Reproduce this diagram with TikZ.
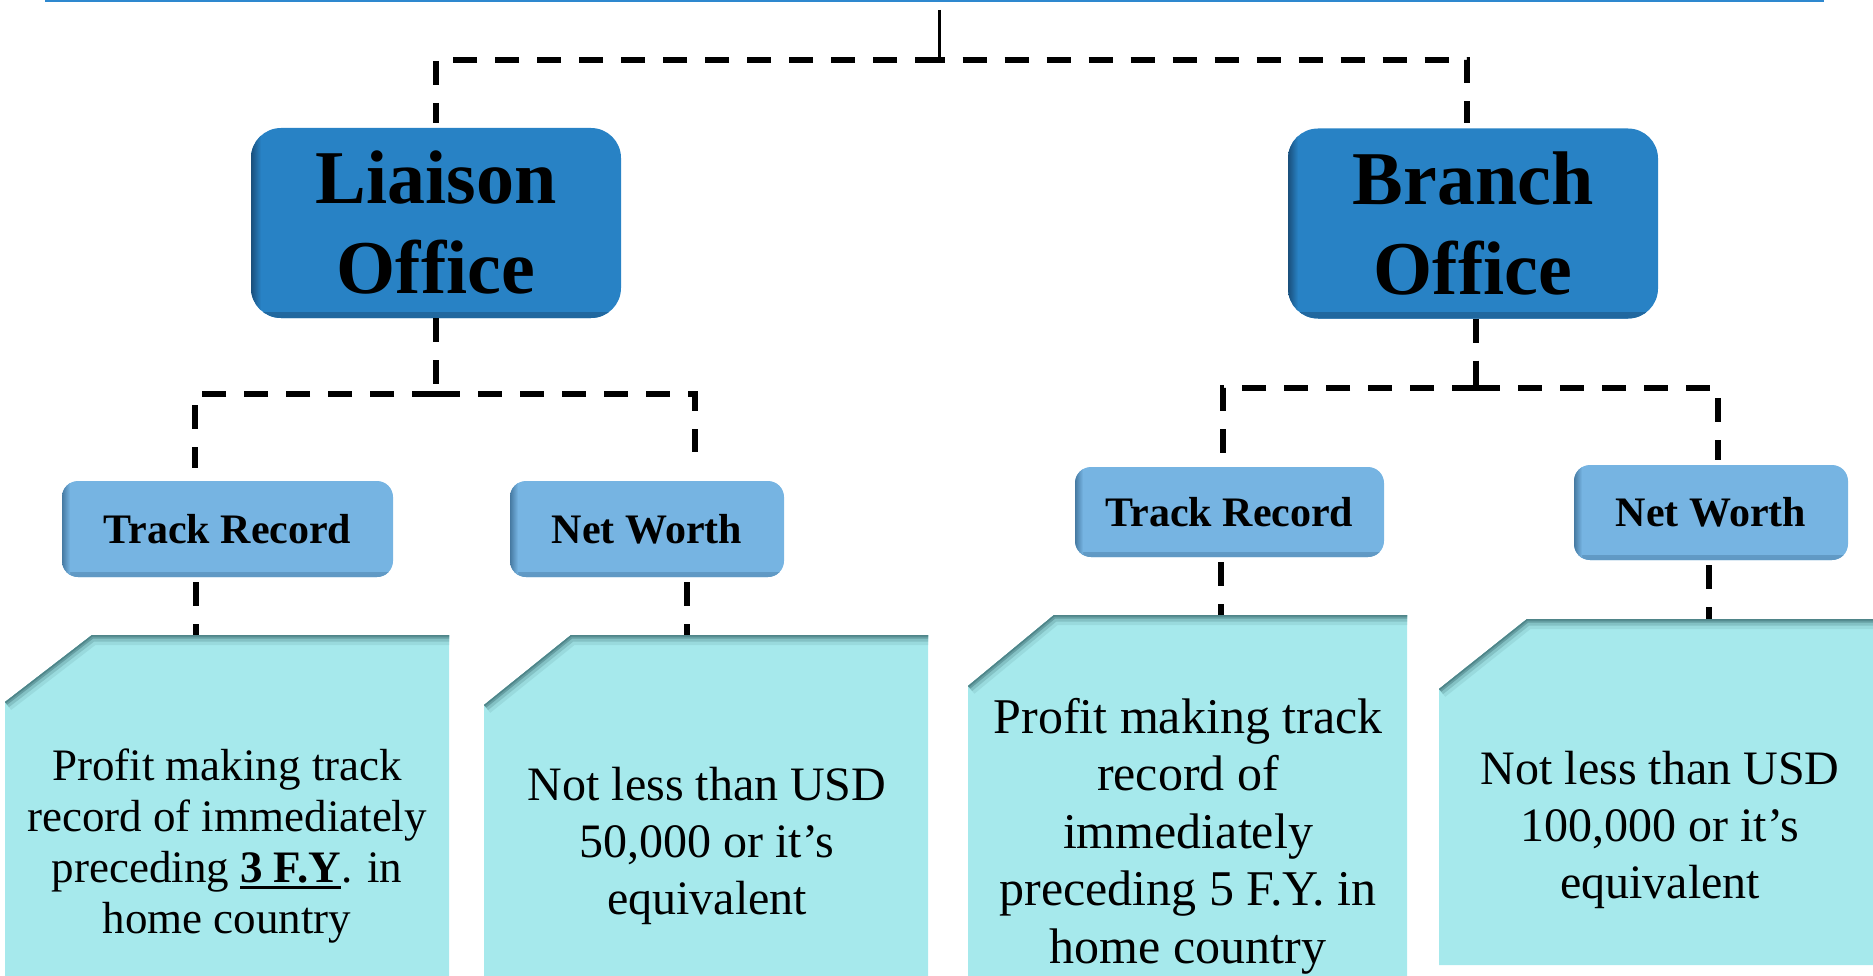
\documentclass[tikz,border=0pt]{standalone}
\usepackage{fontspec}
\setmainfont{Liberation Serif}
\usetikzlibrary{calc}
\definecolor{topline}{HTML}{2E88CF}
\definecolor{mainblue}{HTML}{2882C5}
\definecolor{mainshadow}{HTML}{17466E}
\definecolor{subblue}{HTML}{76B4E2}
\definecolor{subshadow}{HTML}{3E6F96}
\definecolor{cardfill}{HTML}{A6E9EC}
\definecolor{cardsh}{HTML}{4F8589}
\newcommand\ulbold[1]{\setbox0\hbox{\bfseries #1}\rlap{\rule[-7pt]{\wd0}{3.5pt}}\box0}
\newcommand\cardshape[6]{%
  \fill[cardfill] ({#1+#5},#3) -- (#2,#3) -- (#2,#4) -- (#1,#4) -- (#1,{#3+#6}) -- cycle;
  \begin{scope}
    \clip ({#1+#5},#3) -- (#2,#3) -- (#2,#4) -- (#1,#4) -- (#1,{#3+#6}) -- cycle;
    \draw[line width=20pt, cardsh!15!cardfill] (#1,{#3+#6}) -- ({#1+#5},#3) -- ({#2+20},#3);
    \draw[line width=13pt, cardsh!40!cardfill] (#1,{#3+#6}) -- ({#1+#5},#3) -- ({#2+20},#3);
    \draw[line width=7pt, cardsh!75!cardfill] (#1,{#3+#6}) -- ({#1+#5},#3) -- ({#2+20},#3);
    \draw[line width=3pt, cardsh] (#1,{#3+#6}) -- ({#1+#5},#3) -- ({#2+20},#3);
  \end{scope}}
\begin{document}
\begin{tikzpicture}[x=1pt,y=-1pt,
  dl/.style={line width=6pt, dash pattern=on 24pt off 18pt},
  sl/.style={line width=3pt},
  mainbox/.style={fill=mainblue, rounded corners=30pt, minimum width=370pt,
    minimum height=190pt, inner sep=0pt, align=center,
    font=\fontsize{76}{90}\selectfont\bfseries,
    path picture={
      \shade[sharp corners, top color=mainblue, bottom color=mainshadow!45!mainblue]
        (path picture bounding box.south west) rectangle ([yshift=6pt]path picture bounding box.south east);
      \shade[sharp corners, left color=mainshadow!85!mainblue, right color=mainblue]
        (path picture bounding box.north west) rectangle ([xshift=10pt]path picture bounding box.south west);}},
  subbox/.style={fill=subblue, rounded corners=16pt, inner sep=0pt, align=center,
    font=\fontsize{42}{48}\selectfont\bfseries,
    path picture={
      \shade[sharp corners, top color=subblue, bottom color=subshadow!40!subblue]
        (path picture bounding box.south west) rectangle ([yshift=5pt]path picture bounding box.south east);
      \shade[sharp corners, left color=subshadow!85!subblue, right color=subblue]
        (path picture bounding box.north west) rectangle ([xshift=8pt]path picture bounding box.south west);}},
  cardtext/.style={align=center, inner sep=0pt}
]
\useasboundingbox (0,0) rectangle (1873,976);

% top blue rule
\coordinate (ruleL) at (45,1);
\coordinate (ruleR) at (1824,1);
\draw[topline, line width=2.5pt] (ruleL) -- (ruleR);

% main boxes
\node[mainbox] (lo) at (436,223) {Liaison\\Office};
\node[mainbox] (bo) at (1473,223.5) {Branch\\Office};

% sub boxes
\node[subbox, minimum width=331pt, minimum height=96pt] (trl) at (227.5,529) {Track Record};
\node[subbox, minimum width=274pt, minimum height=96pt] (nwl) at (647,529) {Net Worth};
\node[subbox, minimum width=309pt, minimum height=90pt] (trr) at (1229.5,512) {Track Record};
\node[subbox, minimum width=274pt, minimum height=95pt] (nwr) at (1711,512.5) {Net Worth};

% cards
\cardshape{5}{449}{635}{980}{87}{67}
\cardshape{484}{928}{635}{980}{87}{70}
\cardshape{968}{1407}{615}{980}{86}{71}
\cardshape{1439}{1880}{619}{965}{88}{70}

\node[cardtext, font=\fontsize{45}{51}\selectfont] (t1) at (227,846)
  {Profit making track\\record of immediately\\preceding \ulbold{3 F.Y}. in\\home country};
\node[cardtext, font=\fontsize{48}{57}\selectfont] (t2) at (707,846)
  {Not less than USD\\50,000 or it’s\\equivalent};
\node[cardtext, font=\fontsize{50}{57.5}\selectfont] (t3) at (1188,836)
  {Profit making track\\record of\\immediately\\preceding 5 F.Y. in\\home country};
\node[cardtext, font=\fontsize{48}{57}\selectfont] (t4) at (1660,830)
  {Not less than USD\\100,000 or it’s\\equivalent};

% connectors top
\coordinate (root) at (939,10);
\coordinate (hub) at (939,60);
\draw[dl, shorten >=5pt] (hub) -| (lo.north);
\draw[dl, dash phase=18.5pt, shorten >=5pt] (hub) -| ([xshift=-6pt]bo.north);
\draw[sl] (root) -- (hub);

% Liaison branch
\coordinate (hl) at (436,394);
\coordinate (tl) at (195,468);
\coordinate (nl) at (695,452);
\draw[dl] (lo.south) -- (hl);
\draw[dl] (hl) -| (tl);
\draw[dl] (hl) -| (nl);

% Branch branch
\coordinate (hr) at (1476,388);
\coordinate (tr) at (1223,453);
\coordinate (nr) at (1718,460);
\draw[dl] (bo.south -| hr) -- (hr);
\draw[dl] (hr) -| (tr);
\draw[dl] (hr) -| (nr);

% sub boxes to cards
\coordinate (c1) at (196,635);
\coordinate (c2) at (687,635);
\coordinate (c3) at (1221,615);
\coordinate (c4) at (1709,619);
\draw[dl] ([yshift=-5pt]c1 |- trl.south) -- (c1);
\draw[dl] ([yshift=-5pt]c2 |- nwl.south) -- (c2);
\draw[dl] ([yshift=-5pt]c3 |- trr.south) -- (c3);
\draw[dl] ([yshift=-5pt]c4 |- nwr.south) -- (c4);
\end{tikzpicture}
\end{document}
